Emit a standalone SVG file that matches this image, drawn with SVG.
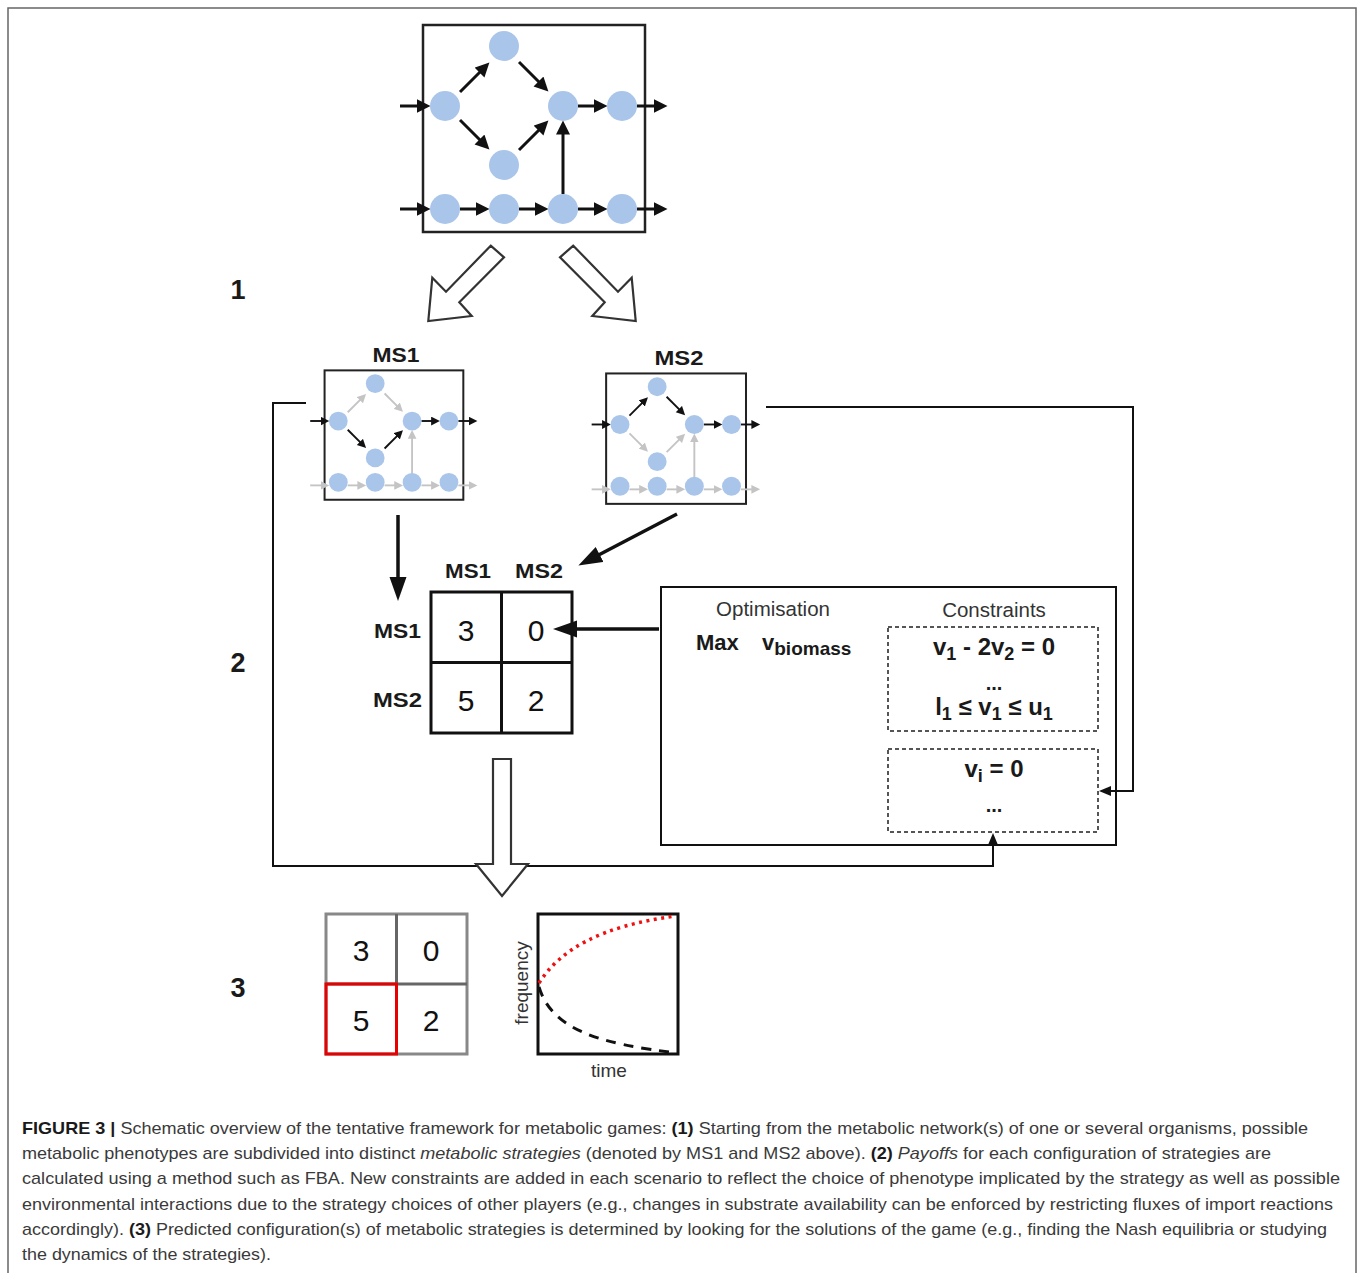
<svg xmlns="http://www.w3.org/2000/svg" width="1360" height="1273" viewBox="0 0 1360 1273">
<style>
text{font-family:"Liberation Sans",Arial,Helvetica,sans-serif}
.b{font-weight:bold;fill:#1a1a1a}
.reg{fill:#333}
.num{font-size:30px;fill:#111;text-anchor:middle}
.node{fill:#a9c5ea}
.ek{stroke:#111;stroke-width:3;fill:none;marker-end:url(#ak)}
.eg{stroke:#c4c4c4;stroke-width:3;fill:none;marker-end:url(#ag)}
.box{fill:none;stroke:#222}
.conn{fill:none;stroke:#111;stroke-width:2}
.thick{fill:none;stroke:#111;stroke-width:3.5}
.hollow{fill:#fff;stroke:#333;stroke-width:2.2;stroke-linejoin:miter}
.dash{fill:none;stroke:#555;stroke-width:2;stroke-dasharray:4 3}
.cap{font-size:17px;fill:#3a3a3a}
.capb{font-weight:bold;fill:#1a1a1a}
.capi{font-style:italic}
</style>
<defs>
<marker id="ak" markerUnits="userSpaceOnUse" markerWidth="15" markerHeight="15" refX="8.5" refY="7" orient="auto"><path d="M0,0 L14,7 L0,14 z" fill="#111"/></marker>
<marker id="ag" markerUnits="userSpaceOnUse" markerWidth="15" markerHeight="15" refX="8.5" refY="7" orient="auto"><path d="M0,0 L14,7 L0,14 z" fill="#c4c4c4"/></marker>
<marker id="big" markerUnits="userSpaceOnUse" markerWidth="26" markerHeight="18" refX="12" refY="8.5" orient="auto"><path d="M0,0 L24,8.5 L0,17 z" fill="#111"/></marker>
<marker id="sm" markerUnits="userSpaceOnUse" markerWidth="14" markerHeight="12" refX="6" refY="5" orient="auto"><path d="M0,0 L12,5 L0,10 z" fill="#111"/></marker>
</defs>
<rect x="8" y="8" width="1348" height="1300" fill="#fff" stroke="#666" stroke-width="1.5"/>

<!-- top network -->
<g id="net-top">
<rect class="box" x="423" y="25" width="222" height="207" stroke-width="2.5"/>
<path class="ek" d="M400,106 L425,106"/>
<path class="ek" d="M400,209 L425,209"/>
<path class="ek" d="M460,92 L485.5,66.5"/>
<path class="ek" d="M519,62 L544.5,87.5"/>
<path class="ek" d="M460,120 L485.5,145.5"/>
<path class="ek" d="M519,150 L544.5,124.5"/>
<path class="ek" d="M578,106 L602,106"/>
<path class="ek" d="M637,106 L662,106"/>
<path class="ek" d="M460,209 L484,209"/>
<path class="ek" d="M519,209 L543,209"/>
<path class="ek" d="M578,209 L602,209"/>
<path class="ek" d="M637,209 L662,209"/>
<path class="ek" d="M563,194 L563,126"/>
<circle class="node" cx="504" cy="46" r="15"/><circle class="node" cx="445" cy="106" r="15"/><circle class="node" cx="563" cy="106" r="15"/><circle class="node" cx="622" cy="106" r="15"/><circle class="node" cx="504" cy="165" r="15"/>
<circle class="node" cx="445" cy="209" r="15"/><circle class="node" cx="504" cy="209" r="15"/><circle class="node" cx="563" cy="209" r="15"/><circle class="node" cx="622" cy="209" r="15"/>
</g>

<!-- MS1 -->
<g id="ms1">
<text class="b" x="396" y="362" font-size="21" text-anchor="middle" textLength="47" lengthAdjust="spacingAndGlyphs">MS1</text>
<g transform="translate(60.2,354.75) scale(0.625)">
<rect class="box" x="423" y="25" width="222" height="207" stroke-width="3.2"/>
<path class="eg" d="M400,209 L425,209"/>
<path class="eg" d="M460,92 L485.5,66.5"/>
<path class="eg" d="M519,62 L544.5,87.5"/>
<path class="eg" d="M460,209 L484,209"/>
<path class="eg" d="M519,209 L543,209"/>
<path class="eg" d="M578,209 L602,209"/>
<path class="eg" d="M637,209 L662,209"/>
<path class="eg" d="M563,194 L563,126"/>
<path class="ek" d="M400,106 L425,106"/>
<path class="ek" d="M460,120 L485.5,145.5"/>
<path class="ek" d="M519,150 L544.5,124.5"/>
<path class="ek" d="M578,106 L602,106"/>
<path class="ek" d="M637,106 L662,106"/>
<circle class="node" cx="504" cy="46" r="15"/><circle class="node" cx="445" cy="106" r="15"/><circle class="node" cx="563" cy="106" r="15"/><circle class="node" cx="622" cy="106" r="15"/><circle class="node" cx="504" cy="165" r="15"/>
<circle class="node" cx="445" cy="204" r="15"/><circle class="node" cx="504" cy="204" r="15"/><circle class="node" cx="563" cy="204" r="15"/><circle class="node" cx="622" cy="204" r="15"/>
</g>
</g>

<!-- MS2 -->
<g id="ms2">
<text class="b" x="679" y="365" font-size="21" text-anchor="middle" textLength="49" lengthAdjust="spacingAndGlyphs">MS2</text>
<g transform="translate(339.65,357.7) scale(0.63)">
<rect class="box" x="423" y="25" width="222" height="207" stroke-width="3.2"/>
<path class="eg" d="M400,209 L425,209"/>
<path class="eg" d="M460,120 L485.5,145.5"/>
<path class="eg" d="M519,150 L544.5,124.5"/>
<path class="eg" d="M460,209 L484,209"/>
<path class="eg" d="M519,209 L543,209"/>
<path class="eg" d="M578,209 L602,209"/>
<path class="eg" d="M637,209 L662,209"/>
<path class="eg" d="M563,194 L563,126"/>
<path class="ek" d="M400,106 L425,106"/>
<path class="ek" d="M460,92 L485.5,66.5"/>
<path class="ek" d="M519,62 L544.5,87.5"/>
<path class="ek" d="M578,106 L602,106"/>
<path class="ek" d="M637,106 L662,106"/>
<circle class="node" cx="504" cy="46" r="15"/><circle class="node" cx="445" cy="106" r="15"/><circle class="node" cx="563" cy="106" r="15"/><circle class="node" cx="622" cy="106" r="15"/><circle class="node" cx="504" cy="165" r="15"/>
<circle class="node" cx="445" cy="204" r="15"/><circle class="node" cx="504" cy="204" r="15"/><circle class="node" cx="563" cy="204" r="15"/><circle class="node" cx="622" cy="204" r="15"/>
</g>
</g>

<!-- step labels -->
<g id="step-labels">
<text class="b" x="238" y="299" font-size="27" text-anchor="middle">1</text>
<text class="b" x="238" y="672" font-size="27" text-anchor="middle">2</text>
<text class="b" x="238" y="997" font-size="27" text-anchor="middle">3</text>
</g>

<!-- connectors -->
<g id="connectors">
<polygon class="hollow" points="490.7,245.7 504,257.3 459.3,302.3 471.7,316 428.3,321 432.3,277.7 446,291.7"/>
<polygon class="hollow" points="573.3,245.7 560,257.3 604.7,302.3 592.3,316 635.7,321 631.7,277.7 618,291.7"/>
<path class="thick" d="M398,515 L398,589" marker-end="url(#big)"/>
<path class="thick" d="M677,514 L589,560" marker-end="url(#big)"/>
<path class="thick" d="M659,629 L565,629" marker-end="url(#big)"/>
<path class="conn" d="M306,403 H273 V866 H993 V839" marker-end="url(#sm)"/>
<path class="conn" d="M766,407 H1133 V791 H1105" marker-end="url(#sm)"/>
<polygon class="hollow" points="493,759 511,759 511,864 528,864 502,896 476,864 493,864"/>
</g>

<!-- payoff matrix -->
<g id="payoff-matrix">
<text class="b" x="468" y="578" font-size="21" text-anchor="middle" textLength="46" lengthAdjust="spacingAndGlyphs">MS1</text>
<text class="b" x="539" y="578" font-size="21" text-anchor="middle" textLength="48" lengthAdjust="spacingAndGlyphs">MS2</text>
<text class="b" x="421" y="638" font-size="21" text-anchor="end" textLength="47" lengthAdjust="spacingAndGlyphs">MS1</text>
<text class="b" x="422" y="707" font-size="21" text-anchor="end" textLength="49" lengthAdjust="spacingAndGlyphs">MS2</text>
<rect x="431" y="592" width="141" height="141" fill="none" stroke="#111" stroke-width="3"/>
<path d="M501.5,592 V733 M431,662.5 H572" stroke="#111" stroke-width="3"/>
<text class="num" x="466" y="641">3</text>
<text class="num" x="536" y="641">0</text>
<text class="num" x="466" y="711">5</text>
<text class="num" x="536" y="711">2</text>
</g>

<!-- optimisation box -->
<g id="optimisation">
<rect x="661" y="587" width="455" height="258" fill="none" stroke="#111" stroke-width="2"/>
<text class="reg" x="773" y="616" font-size="20.5" text-anchor="middle">Optimisation</text>
<text class="reg" x="994" y="617" font-size="20.5" text-anchor="middle">Constraints</text>
<text class="b" x="696" y="650" font-size="22">Max</text>
<text class="b" x="762" y="650" font-size="22">v<tspan font-size="19" dy="5">biomass</tspan></text>
<rect class="dash" x="888" y="627" width="210" height="104"/>
<rect class="dash" x="888" y="749" width="210" height="83"/>
<text class="b" x="994" y="655" font-size="24" text-anchor="middle">v<tspan font-size="18" dy="5">1</tspan><tspan dy="-5"> - 2v</tspan><tspan font-size="18" dy="5">2</tspan><tspan dy="-5"> = 0</tspan></text>
<text class="b" x="994" y="690" font-size="20" text-anchor="middle">...</text>
<text class="b" x="994" y="715" font-size="24" text-anchor="middle">l<tspan font-size="18" dy="5">1</tspan><tspan dy="-5"> ≤ v</tspan><tspan font-size="18" dy="5">1</tspan><tspan dy="-5"> ≤ u</tspan><tspan font-size="18" dy="5">1</tspan></text>
<text class="b" x="994" y="777" font-size="24" text-anchor="middle">v<tspan font-size="18" dy="5">i</tspan><tspan dy="-5"> = 0</tspan></text>
<text class="b" x="994" y="812" font-size="20" text-anchor="middle">...</text>
</g>

<!-- result matrix -->
<g id="result-matrix">
<rect x="326" y="914" width="141" height="140" fill="none" stroke="#888" stroke-width="3"/>
<path d="M396.5,914 V1054 M326,984 H467" stroke="#666" stroke-width="3"/>
<rect x="326" y="984" width="70.5" height="70" fill="none" stroke="#e60000" stroke-width="3"/>
<text class="num" x="361" y="961">3</text>
<text class="num" x="431" y="961">0</text>
<text class="num" x="361" y="1031">5</text>
<text class="num" x="431" y="1031">2</text>
</g>

<!-- dynamics plot -->
<g id="dynamics-plot">
<rect x="538" y="914" width="140" height="140" fill="none" stroke="#111" stroke-width="3"/>
<path d="M539,983 C560,950 600,926 676,916" fill="none" stroke="#ee1111" stroke-width="3.5" stroke-dasharray="3 4.5"/>
<path d="M539,987 C552,1030 600,1044 678,1053" fill="none" stroke="#111" stroke-width="3" stroke-dasharray="10 8"/>
<text class="reg" x="0" y="0" font-size="19" text-anchor="middle" transform="translate(528,983) rotate(-90)">frequency</text>
<text class="reg" x="609" y="1077" font-size="19" text-anchor="middle">time</text>
</g>

<!-- caption -->
<g id="caption">
<text class="cap" x="22" y="1134" textLength="1286" lengthAdjust="spacingAndGlyphs"><tspan class="capb">FIGURE 3 |</tspan> Schematic overview of the tentative framework for metabolic games: <tspan class="capb">(1)</tspan> Starting from the metabolic network(s) of one or several organisms, possible</text>
<text class="cap" x="22" y="1159" textLength="1249" lengthAdjust="spacingAndGlyphs">metabolic phenotypes are subdivided into distinct <tspan class="capi">metabolic strategies</tspan> (denoted by MS1 and MS2 above). <tspan class="capb">(2)</tspan> <tspan class="capi">Payoffs</tspan> for each configuration of strategies are</text>
<text class="cap" x="22" y="1184" textLength="1318" lengthAdjust="spacingAndGlyphs">calculated using a method such as FBA. New constraints are added in each scenario to reflect the choice of phenotype implicated by the strategy as well as possible</text>
<text class="cap" x="22" y="1210" textLength="1311" lengthAdjust="spacingAndGlyphs">environmental interactions due to the strategy choices of other players (e.g., changes in substrate availability can be enforced by restricting fluxes of import reactions</text>
<text class="cap" x="22" y="1235" textLength="1305" lengthAdjust="spacingAndGlyphs">accordingly). <tspan class="capb">(3)</tspan> Predicted configuration(s) of metabolic strategies is determined by looking for the solutions of the game (e.g., finding the Nash equilibria or studying</text>
<text class="cap" x="22" y="1260" textLength="249" lengthAdjust="spacingAndGlyphs">the dynamics of the strategies).</text>
</g>
</svg>
